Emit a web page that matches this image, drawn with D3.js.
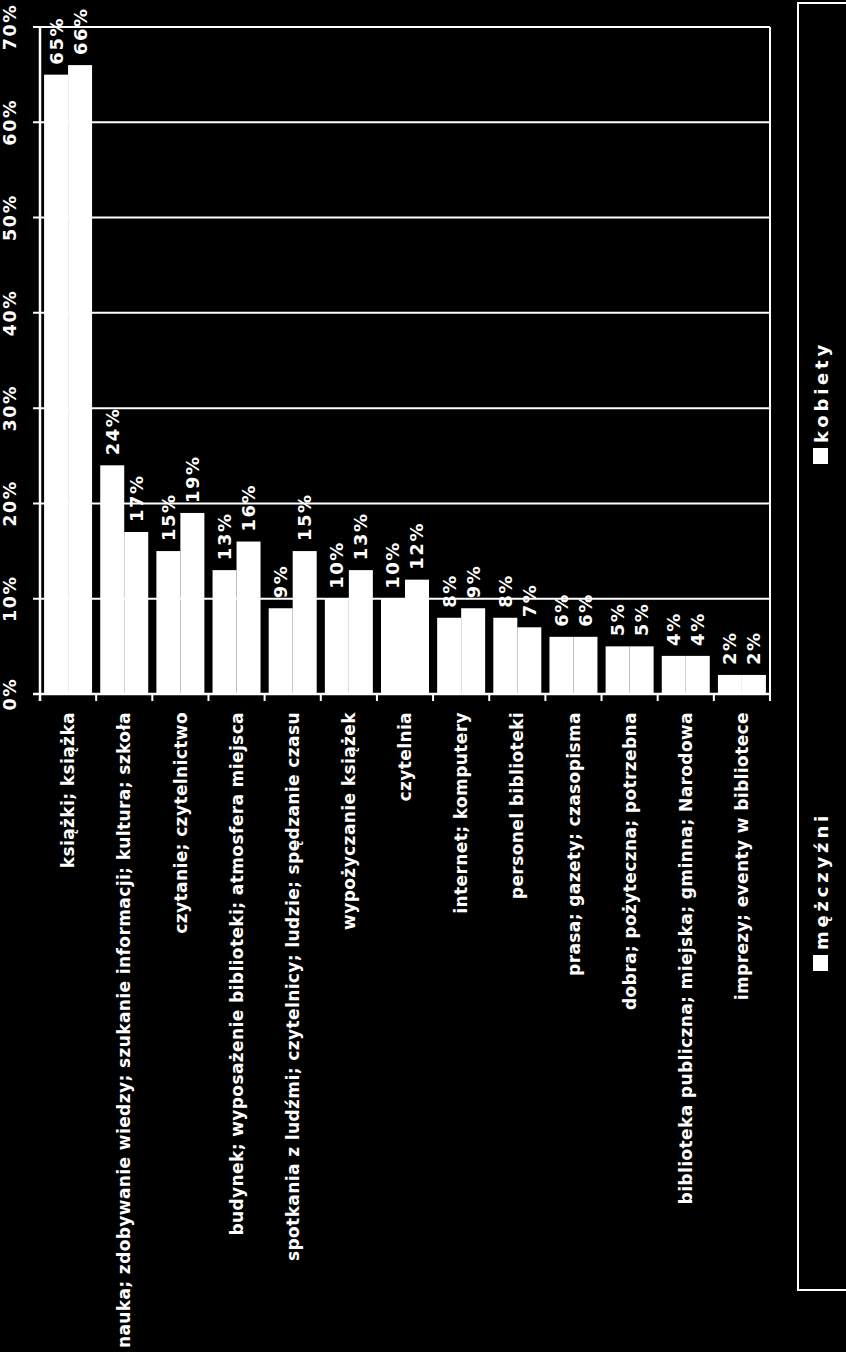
<!DOCTYPE html>
<html>
<head>
<meta charset="utf-8">
<script src="https://cdn.jsdelivr.net/npm/d3@7"></script>
<style>
  html, body { margin: 0; padding: 0; background: #000; }
  svg { display: block; }
  text { font-family: "DejaVu Sans", Verdana, sans-serif; font-weight: bold; fill: #fff; }
</style>
</head>
<body>
<svg id="chart" width="846" height="1352"></svg>
<script>
const categories = [
  "książki; książka",
  "nauka; zdobywanie wiedzy; szukanie informacji; kultura; szkoła",
  "czytanie; czytelnictwo",
  "budynek; wyposażenie biblioteki; atmosfera miejsca",
  "spotkania z ludźmi; czytelnicy; ludzie; spędzanie czasu",
  "wypożyczanie książek",
  "czytelnia",
  "internet; komputery",
  "personel biblioteki",
  "prasa; gazety; czasopisma",
  "dobra; pożyteczna; potrzebna",
  "biblioteka publiczna; miejska; gminna; Narodowa",
  "imprezy; eventy w bibliotece"
];
const seriesNames = ["mężczyźni", "kobiety"];
const men   = [65, 24, 15, 13, 9, 10, 10, 8, 8, 6, 5, 4, 2];
const women = [66, 17, 19, 16, 15, 13, 12, 9, 7, 6, 5, 4, 2];
const tickValues = [0, 10, 20, 30, 40, 50, 60, 70];

(function () {
const svg = d3.select("#chart");
svg.append("rect").attr("width", 846).attr("height", 1352).attr("fill", "#000");

const pLeft = 40, pRight = 770, pTop = 27, pBottom = 694;

const x = d3.scaleBand().domain(categories).range([pLeft, pRight]).padding(0);
const xs = d3.scaleBand().domain(seriesNames).range([0, x.bandwidth()]).paddingInner(0).paddingOuter(0.17);
const y = d3.scaleLinear().domain([0, 70]).range([pBottom, pTop]);

// gridlines + left ticks
svg.append("g").selectAll("line").data(tickValues).join("line")
  .attr("x1", pLeft - 7).attr("x2", pRight)
  .attr("y1", d => y(d)).attr("y2", d => y(d))
  .attr("stroke", "#fff").attr("stroke-width", 2);

// tick labels
svg.append("g").selectAll("text").data(tickValues).join("text")
  .attr("transform", d => `translate(10.5,${y(d)}) rotate(-90)`)
  .attr("text-anchor", "middle").attr("dy", "0.34em")
  .attr("font-size", 17.5).attr("letter-spacing", 1.6)
  .text(d => d + "%");

// bars
const data = categories.map((c, i) => ({ c, vals: [men[i], women[i]] }));
const groups = svg.append("g").selectAll("g").data(data).join("g")
  .attr("transform", d => `translate(${x(d.c)},0)`);

groups.selectAll("rect").data(d => d.vals.map((v, j) => ({ s: seriesNames[j], v }))).join("rect")
  .attr("x", d => xs(d.s)).attr("width", xs.bandwidth())
  .attr("y", d => y(d.v)).attr("height", d => pBottom - y(d.v))
  .attr("fill", "#fff");

// data labels
groups.selectAll("text").data(d => d.vals.map((v, j) => ({ s: seriesNames[j], v }))).join("text")
  .attr("transform", d => `translate(${xs(d.s) + xs.bandwidth() / 2},${y(d.v) - 10}) rotate(-90)`)
  .attr("text-anchor", "start").attr("dy", "0.36em")
  .attr("font-size", 18).attr("letter-spacing", 1.5)
  .text(d => d.v + "%");

// axes lines
svg.append("line").attr("x1", pLeft).attr("x2", pLeft).attr("y1", pTop).attr("y2", pBottom + 7)
  .attr("stroke", "#fff").attr("stroke-width", 2.5);
svg.append("line").attr("x1", pRight).attr("x2", pRight).attr("y1", pTop).attr("y2", pBottom + 7)
  .attr("stroke", "#fff").attr("stroke-width", 2);
svg.append("line").attr("x1", pLeft - 7).attr("x2", pRight).attr("y1", pBottom).attr("y2", pBottom)
  .attr("stroke", "#fff").attr("stroke-width", 2.5);

// category ticks at boundaries
const bounds = categories.map(c => x(c)).concat([pRight]);
svg.append("g").selectAll("line").data(bounds).join("line")
  .attr("x1", d => d).attr("x2", d => d)
  .attr("y1", pBottom).attr("y2", pBottom + 7)
  .attr("stroke", "#fff").attr("stroke-width", 2);

// category labels
svg.append("g").selectAll("text").data(categories).join("text")
  .attr("transform", d => `translate(${x(d) + x.bandwidth() / 2},712) rotate(-90)`)
  .attr("text-anchor", "end").attr("dy", "0.36em")
  .attr("font-size", 17).attr("letter-spacing", 0.4)
  .text(d => d);

// legend
svg.append("rect").attr("x", 798).attr("y", 3).attr("width", 50).attr("height", 1287)
  .attr("fill", "none").attr("stroke", "#fff").attr("stroke-width", 2);

const legendPos = [{ s: "mężczyźni", y: 955 }, { s: "kobiety", y: 448 }];
const lg = svg.append("g").selectAll("g").data(legendPos).join("g");
lg.append("rect").attr("x", 813).attr("y", d => d.y).attr("width", 15).attr("height", 16).attr("fill", "#fff");
lg.append("text")
  .attr("transform", d => `translate(822,${d.y - 5}) rotate(-90)`)
  .attr("text-anchor", "start").attr("dy", "0.36em")
  .attr("font-size", 18).attr("letter-spacing", 3.8)
  .text(d => d.s);
})();
</script>
</body>
</html>
